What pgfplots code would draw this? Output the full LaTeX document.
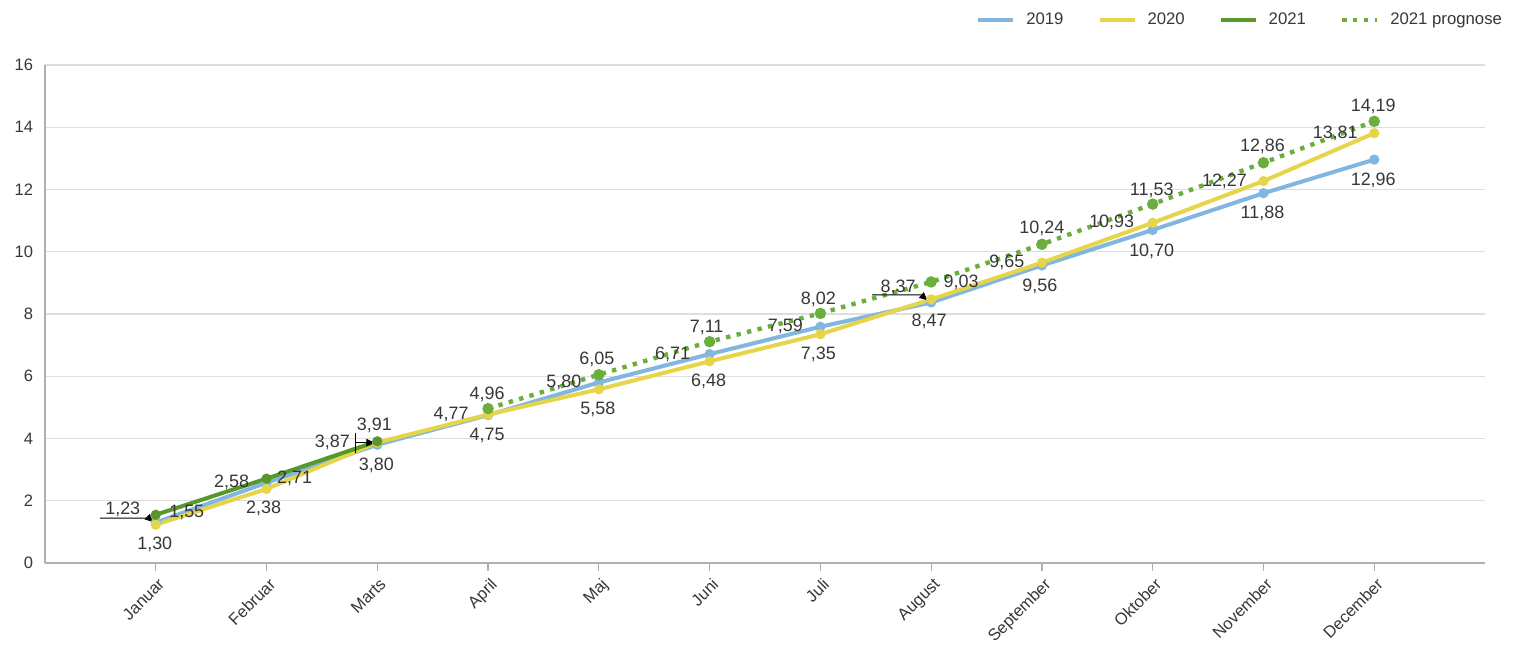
\documentclass[border=0pt]{standalone}
\usepackage{pgfplots}
\pgfplotsset{compat=1.18}
\usepackage{pgfplotstable}
\usepackage{fontspec}
\setmainfont{Liberation Sans}
\usetikzlibrary{arrows.meta}
\definecolor{c19}{RGB}{128,182,224}
\definecolor{c20}{RGB}{230,213,74}
\definecolor{c21}{RGB}{88,152,42}
\definecolor{cpr}{RGB}{108,174,62}
\definecolor{gridc}{RGB}{222,222,222}
\definecolor{axc}{RGB}{175,175,175}
\definecolor{txt}{RGB}{55,55,55}

% x y dx dy : label centre offset in px (dy positive = up)
\pgfplotstableread{
x y dx dy
0 1.30 -1 -22
1 2.58 -35 0
2 3.80 -1 -21
3 4.75 -1 -20
4 5.80 -35 0
5 6.71 -37 0
6 7.59 -35 0
7 8.37 -33 15
8 9.56 -2 -21
9 10.70 -1 -21
10 11.88 -1 -20
11 12.96 -1 -21
}\dataA
\pgfplotstableread{
x y dx dy
0 1.23 -33 15
1 2.38 -3 -19
2 3.87 -45 0
3 4.77 -37 0
4 5.58 -1 -20
5 6.48 -1 -20
6 7.35 -2 -20
7 8.47 -2 -22
8 9.65 -35 0
9 10.93 -41 0
10 12.27 -39 0
11 13.81 -39 0
}\dataB
\pgfplotstableread{
x y dx dy
0 1.55 31 2
1 2.71 28 0
2 3.91 -3 16
}\dataC
\pgfplotstableread{
x y dx dy
3 4.96 -1 14
4 6.05 -2 15
5 7.11 -3 14
6 8.02 -2 14
7 9.03 30 0
8 10.24 0 16
9 11.53 -1 14
10 12.86 -1 16
11 14.19 -1 15
}\dataD

\pgfplotsset{
  lbl/.style={
    point meta=y,
    visualization depends on={\thisrow{dx} \as \dx},
    visualization depends on={\thisrow{dy} \as \dy},
    nodes near coords={\pgfmathprintnumber[fixed,fixed zerofill,precision=2,use comma,assume math mode=true]{\pgfplotspointmeta}},
    nodes near coords style={anchor=center, xshift=\dx*0.5bp, yshift=\dy*0.5bp,
      font=\fontsize{9}{10}\selectfont, text=txt, inner sep=0pt},
  }
}

\begin{document}
\begin{tikzpicture}
\begin{axis}[
  scale only axis,
  width=720bp, height=249bp,
  xmin=-1, xmax=12, ymin=0, ymax=16,
  xtick={0,...,11},
  xticklabels={Januar,Februar,Marts,April,Maj,Juni,Juli,August,September,Oktober,November,December},
  ytick={0,2,...,16},
  axis lines=left,
  axis line style={-, axc, line width=0.6bp},
  ymajorgrids, grid style={gridc, line width=0.6bp},
  tick align=outside, major tick length=4bp,
  xtick style={axc, line width=0.6bp},
  ytick style={draw=none},
  /pgf/number format/assume math mode=true,
  tick label style={font=\fontsize{8.3}{10}\selectfont, text=txt},
  xticklabel style={rotate=45, anchor=north east, inner sep=1.5bp, yshift=-1bp},
  yticklabel style={xshift=1.5bp},
  clip=false,
  legend style={at={(axis description cs:1.019,1.09)}, anchor=east, draw=none, fill=none,
    font=\fontsize{8.4}{10}\selectfont, text=txt,
    /tikz/every odd column/.append style={column sep=3.5bp},
    /tikz/every even column/.append style={column sep=15bp}},
  legend columns=4,
  legend cell align=left,
  legend image code/.code={\draw[#1] (0bp,0bp) -- (17.5bp,0bp);},
]
\coordinate (bl) at (rel axis cs:0,0);
\coordinate (tr) at (rel axis cs:1,1);
\addplot[c19, line width=2bp, mark=*, mark size=1.5bp, lbl] table[x=x,y=y] {\dataA};
\addlegendentry{2019}
\addplot[c20, line width=2bp, mark=*, mark size=1.5bp, lbl] table[x=x,y=y] {\dataB};
\addlegendentry{2020}
\addplot[c21, line width=2bp, mark=*, mark size=1.5bp, lbl] table[x=x,y=y] {\dataC};
\addlegendentry{2021}
\addplot[cpr, line width=2.2bp, dash pattern=on 2.2bp off 3.2bp, mark=*, mark size=1.7bp, mark options={solid}, lbl] table[x=x,y=y] {\dataD};
\addlegendentry{2021 prognose}
% label leader lines
\draw[black, line width=0.5bp, -{Latex[length=4.5bp,width=4bp]}]
  ([shift={(-28bp,3.3bp)}]axis cs:0,1.23) -- ([shift={(-3.5bp,3.3bp)}]axis cs:0,1.23) -- ([shift={(-1bp,1bp)}]axis cs:0,1.23);
\draw[black, line width=0.5bp] ([shift={(-11bp,5bp)}]axis cs:2,3.87) -- ([shift={(-11bp,-5bp)}]axis cs:2,3.87);
\draw[black, line width=0.5bp, -{Latex[length=4.5bp,width=4bp]}]
  ([shift={(-11bp,0bp)}]axis cs:2,3.87) -- ([shift={(-1bp,0bp)}]axis cs:2,3.87);
\draw[black, line width=0.5bp, -{Latex[length=4.5bp,width=4bp]}]
  ([shift={(-29.5bp,3.8bp)}]axis cs:7,8.37) -- ([shift={(-5bp,3.8bp)}]axis cs:7,8.37) -- ([shift={(-1.5bp,0.8bp)}]axis cs:7,8.37);
\end{axis}
\path ([shift={(-22.5bp,-44bp)}]bl) rectangle ([shift={(15bp,32.5bp)}]tr);
\end{tikzpicture}
\end{document}
